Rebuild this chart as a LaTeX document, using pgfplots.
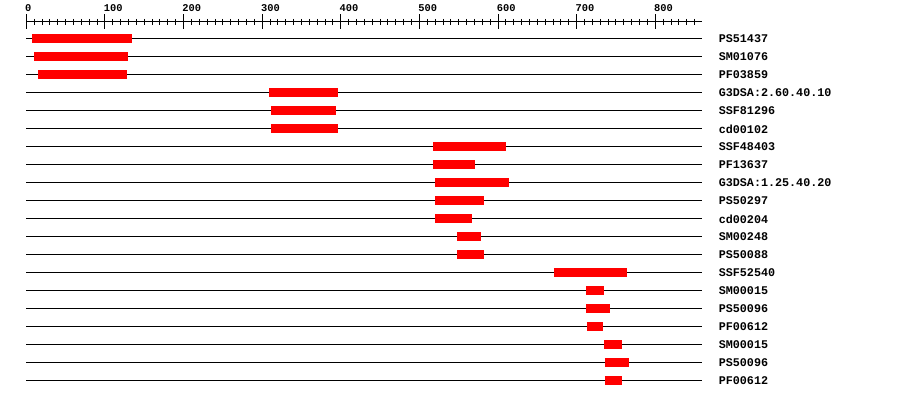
\documentclass[border=0pt]{standalone}
\usepackage{fontspec}
\setmonofont{Liberation Mono}
\usepackage{pgfplots}
\pgfplotsset{compat=1.18}
\begin{document}
\begin{tikzpicture}[x=1pt,y=1pt]
\path[use as bounding box, fill=white] (0,0) rectangle (675,300);
\begin{axis}[
  at={(19.725pt,7.5pt)}, anchor=south west,
  scale only axis, width=506.55pt, height=276pt,
  xmin=0, xmax=859, ymin=-20.5, ymax=-0.0556,
  clip=false,
  axis x line*=top, axis y line*=right,
  x axis line style={-, line width=0.75pt},
  y axis line style={draw=none},
  xtick={0,100,...,800},
  xticklabels={0,100,200,300,400,500,600,700,800},
  minor xtick={10,20,...,850},
  tick align=center,
  major tick length=11.25pt, minor tick length=4.5pt,
  every tick/.style={black, line width=0.75pt},
  ytick style={draw=none},
  xticklabel style={anchor=south west, inner sep=0pt, yshift=2.25pt, xshift=-1pt, font=\ttfamily\bfseries\fontsize{7.8}{9}\selectfont},
  ytick={-1,-2,...,-20},
  yticklabels={PS51437,SM01076,PF03859,G3DSA:2.60.40.10,SSF81296,cd00102,SSF48403,PF13637,G3DSA:1.25.40.20,PS50297,cd00204,SM00248,PS50088,SSF52540,SM00015,PS50096,PF00612,SM00015,PS50096,PF00612},
  yticklabel style={anchor=west, inner sep=0pt, xshift=7pt, font=\ttfamily\bfseries\fontsize{8.8}{11}\selectfont},
  unbounded coords=jump,
]
\addplot[black, line width=0.75pt] coordinates {
(0,-1) (859,-1) (nan,nan)
(0,-2) (859,-2) (nan,nan)
(0,-3) (859,-3) (nan,nan)
(0,-4) (859,-4) (nan,nan)
(0,-5) (859,-5) (nan,nan)
(0,-6) (859,-6) (nan,nan)
(0,-7) (859,-7) (nan,nan)
(0,-8) (859,-8) (nan,nan)
(0,-9) (859,-9) (nan,nan)
(0,-10) (859,-10) (nan,nan)
(0,-11) (859,-11) (nan,nan)
(0,-12) (859,-12) (nan,nan)
(0,-13) (859,-13) (nan,nan)
(0,-14) (859,-14) (nan,nan)
(0,-15) (859,-15) (nan,nan)
(0,-16) (859,-16) (nan,nan)
(0,-17) (859,-17) (nan,nan)
(0,-18) (859,-18) (nan,nan)
(0,-19) (859,-19) (nan,nan)
(0,-20) (859,-20)
};
\addplot[red, line width=6.75pt, line cap=butt] coordinates {
(7,-1) (134,-1) (nan,nan)
(10,-2) (129,-2) (nan,nan)
(15,-3) (128,-3) (nan,nan)
(309,-4) (397,-4) (nan,nan)
(311,-5) (394,-5) (nan,nan)
(311,-6) (397,-6) (nan,nan)
(517,-7) (610,-7) (nan,nan)
(517,-8) (571,-8) (nan,nan)
(520,-9) (614,-9) (nan,nan)
(520,-10) (582,-10) (nan,nan)
(520,-11) (567,-11) (nan,nan)
(548,-12) (578,-12) (nan,nan)
(548,-13) (582,-13) (nan,nan)
(671,-14) (764,-14) (nan,nan)
(712,-15) (735,-15) (nan,nan)
(712,-16) (743,-16) (nan,nan)
(713,-17) (734,-17) (nan,nan)
(735,-18) (758,-18) (nan,nan)
(736,-19) (766,-19) (nan,nan)
(736,-20) (758,-20)
};
\end{axis}
\end{tikzpicture}
\end{document}
